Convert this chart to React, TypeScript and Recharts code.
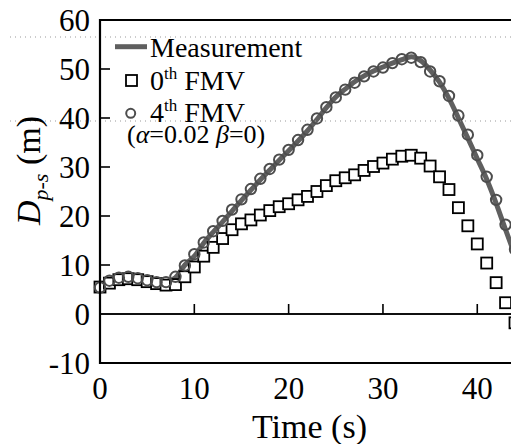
import {
  ComposedChart,
  Line,
  XAxis,
  YAxis,
  ReferenceLine,
} from "recharts";

// time axis (s), one sample per second
const TIME_S = [
  0, 1, 2, 3, 4, 5, 6, 7, 8, 9, 10, 11, 12, 13, 14, 15, 16, 17, 18, 19, 20, 21,
  22, 23, 24, 25, 26, 27, 28, 29, 30, 31, 32, 33, 34, 35, 36, 37, 38, 39, 40,
  41, 42, 43, 44,
];

// D_p-s (m)
const MEASUREMENT = [
  5.6, 7.0, 7.6, 7.8, 7.5, 7.1, 6.7, 6.6, 7.4, 10.0, 11.8, 14.5, 16.7, 18.8,
  21.0, 23.2, 25.3, 27.4, 29.4, 31.4, 33.3, 35.3, 37.4, 39.7, 42.1, 44.3, 45.9,
  47.4, 48.6, 49.6, 50.4, 51.2, 51.9, 52.5, 51.7, 49.8, 47.3, 44.0, 40.0, 35.9,
  31.7, 27.5, 22.6, 17.2, 12.0,
];

const FMV_0TH = [
  5.5, 6.3, 7.0, 7.2, 7.0, 6.6, 6.2, 5.9, 6.0, 7.6, 9.6, 11.8, 13.6, 15.4, 17.2,
  18.4, 19.2, 20.2, 21.1, 21.9, 22.5, 23.3, 24.0, 25.0, 26.2, 27.2, 27.8, 28.4,
  29.3, 30.1, 30.8, 31.6, 32.2, 32.4, 31.8, 30.2, 28.0, 25.4, 21.7, 18.0, 14.3,
  10.4, 6.4, 2.3, -1.8,
];

const FMV_4TH = [
  5.4, 6.8, 7.4, 7.6, 7.3, 6.9, 6.5, 6.5, 7.6, 9.9, 12.2, 14.6, 16.9, 19.0,
  21.3, 23.4, 25.5, 27.6, 29.6, 31.5, 33.5, 35.5, 37.6, 39.9, 42.2, 44.2, 45.8,
  47.2, 48.5, 49.5, 50.3, 51.2, 52.0, 52.3, 51.4, 49.5, 47.5, 44.5, 40.5, 36.6,
  32.4, 28.0, 23.3, 18.2, 13.2,
];

const X_TICKS = [0, 10, 20, 30, 40];
const Y_TICKS = [-10, 0, 10, 20, 30, 40, 50, 60];
const X_DOMAIN = [0, 44];
const Y_DOMAIN = [-10, 60];

const data = TIME_S.map((t, i) => ({
  t,
  measured: MEASUREMENT[i],
  fmv0: FMV_0TH[i],
  fmv4: FMV_4TH[i],
}));

const W = 519;
const H = 444;
const MARGIN = { top: 20, right: 4, bottom: 0, left: 0 };
const Y_AXIS_W = 100;
const X_AXIS_H = 81;
// plot box, derived from the chart layout above
const BOX = {
  left: MARGIN.left + Y_AXIS_W,
  right: W - MARGIN.right,
  top: MARGIN.top,
  bottom: H - MARGIN.bottom - X_AXIS_H,
};
const px = (t: number) =>
  BOX.left + ((t - X_DOMAIN[0]) / (X_DOMAIN[1] - X_DOMAIN[0])) * (BOX.right - BOX.left);
const py = (v: number) =>
  BOX.top + ((Y_DOMAIN[1] - v) / (Y_DOMAIN[1] - Y_DOMAIN[0])) * (BOX.bottom - BOX.top);

const SERIF = '"Liberation Serif", "Times New Roman", serif';
const INK = "#000";
const LINE_GRAY = "#5f5f5f";
const CIRCLE_GRAY = "#4d4d4d";

function SquareDot(props: any) {
  const { cx, cy } = props;
  if (cx == null || cy == null) return null;
  return (
    <rect x={cx - 5.5} y={cy - 5.5} width={11} height={11} fill="#fff" stroke={INK} strokeWidth={1.8} />
  );
}

function CircleDot(props: any) {
  const { cx, cy } = props;
  if (cx == null || cy == null) return null;
  return <circle cx={cx} cy={cy} r={5.2} fill="none" stroke={CIRCLE_GRAY} strokeWidth={2} />;
}

// frame, inward ticks, legend and axis titles, drawn over the chart
function Overlay() {
  const text = { fontFamily: SERIF, fontSize: 28, fill: INK };
  return (
    <svg
      width={W}
      height={H}
      style={{ position: "absolute", left: 0, top: 0, pointerEvents: "none" }}
    >
      {/* faint dotted rules of the scanned original */}
      <line x1={0} x2={W} y1={37} y2={37} stroke="#999" strokeDasharray="1 4" />
      <line x1={0} x2={W} y1={121} y2={121} stroke="#999" strokeDasharray="1 4" />

      <path
        d={`M${BOX.left},${BOX.top} H${BOX.right} V${BOX.bottom} H${BOX.left} Z`}
        fill="none"
        stroke={INK}
        strokeWidth={2.2}
      />
      <path
        d={`M${BOX.left},${py(0)} H${BOX.right}`}
        fill="none"
        stroke={INK}
        strokeWidth={1.6}
      />
      {X_TICKS.filter((t) => t > 0).map((t) => (
        <path
          key={`xt-${t}`}
          d={`M${px(t)},${py(0)} V${py(0) - 10}`}
          fill="none"
          stroke={INK}
          strokeWidth={1.6}
        />
      ))}
      {Y_TICKS.filter((v) => v > 0 && v < 60).map((v) => (
        <path
          key={`yt-${v}`}
          d={`M${BOX.left},${py(v)} H${BOX.left + 10}`}
          fill="none"
          stroke={INK}
          strokeWidth={1.6}
        />
      ))}

      <g transform="translate(108, 28)">
        <line x1={7} x2={39} y1={18.7} y2={18.7} stroke={LINE_GRAY} strokeWidth={5} />
        <text x={42} y={29} {...text}>
          Measurement
        </text>
        <rect x={18} y={47} width={11} height={11} fill="#fff" stroke={INK} strokeWidth={1.8} />
        <text x={42} y={62} {...text}>
          0<tspan fontSize={17} dy={-11}>th</tspan>
          <tspan dy={11}> FMV</tspan>
        </text>
        <circle cx={22.7} cy={85.3} r={4.5} fill="none" stroke={CIRCLE_GRAY} strokeWidth={2} />
        <text x={42} y={94} {...text}>
          4<tspan fontSize={17} dy={-11}>th</tspan>
          <tspan dy={11}> FMV</tspan>
        </text>
        <text x={19} y={115} {...text} fontSize={26}>
          (<tspan fontStyle="italic">α</tspan>=0.02 <tspan fontStyle="italic">β</tspan>=0)
        </text>
      </g>

      <text
        x={40}
        y={170.5}
        transform="rotate(-90, 40, 170.5)"
        textAnchor="middle"
        fontFamily={SERIF}
        fontSize={34}
        fill={INK}
      >
        <tspan fontStyle="italic">D</tspan>
        <tspan fontStyle="italic" fontSize={22} dy={8}>
          p-s
        </tspan>
        <tspan dy={-8}> (m)</tspan>
      </text>
      <text
        x={(BOX.left + BOX.right) / 2 + 2}
        y={438}
        textAnchor="middle"
        fontFamily={SERIF}
        fontSize={34}
        fill={INK}
      >
        Time (s)
      </text>
    </svg>
  );
}

export default function App() {
  return (
    <div style={{ position: "relative", width: W, height: H, margin: "-8px 0 0 -8px" }}>
      <ComposedChart width={W} height={H} data={data} margin={MARGIN}>
        <XAxis
          dataKey="t"
          type="number"
          domain={X_DOMAIN}
          ticks={X_TICKS}
          axisLine={{ stroke: INK, strokeWidth: 2 }}
          tickLine={false}
          tickSize={0}
          tickMargin={14}
          height={X_AXIS_H}
          tick={{ fill: INK, fontSize: 31, fontFamily: SERIF }}
        />
        <YAxis
          type="number"
          domain={Y_DOMAIN}
          ticks={Y_TICKS}
          axisLine={{ stroke: INK, strokeWidth: 2 }}
          tickLine={false}
          tickSize={0}
          tickMargin={10}
          width={Y_AXIS_W}
          tick={{ fill: INK, fontSize: 31, fontFamily: SERIF }}
        />
        <ReferenceLine y={60} stroke={INK} strokeWidth={2} />
        <ReferenceLine y={0} stroke={INK} strokeWidth={1.5} />
        <Line
          dataKey="fmv0"
          name="0th FMV"
          stroke="none"
          dot={(p: any) => <SquareDot key={`sq-${p.index}`} {...p} />}
          activeDot={false}
          isAnimationActive={false}
        />
        <Line
          type="monotone"
          dataKey="measured"
          name="Measurement"
          stroke={LINE_GRAY}
          strokeWidth={5}
          dot={false}
          activeDot={false}
          isAnimationActive={false}
        />
        <Line
          dataKey="fmv4"
          name="4th FMV"
          stroke="none"
          dot={(p: any) => <CircleDot key={`ci-${p.index}`} {...p} />}
          activeDot={false}
          isAnimationActive={false}
        />
      </ComposedChart>
      <Overlay />
    </div>
  );
}
